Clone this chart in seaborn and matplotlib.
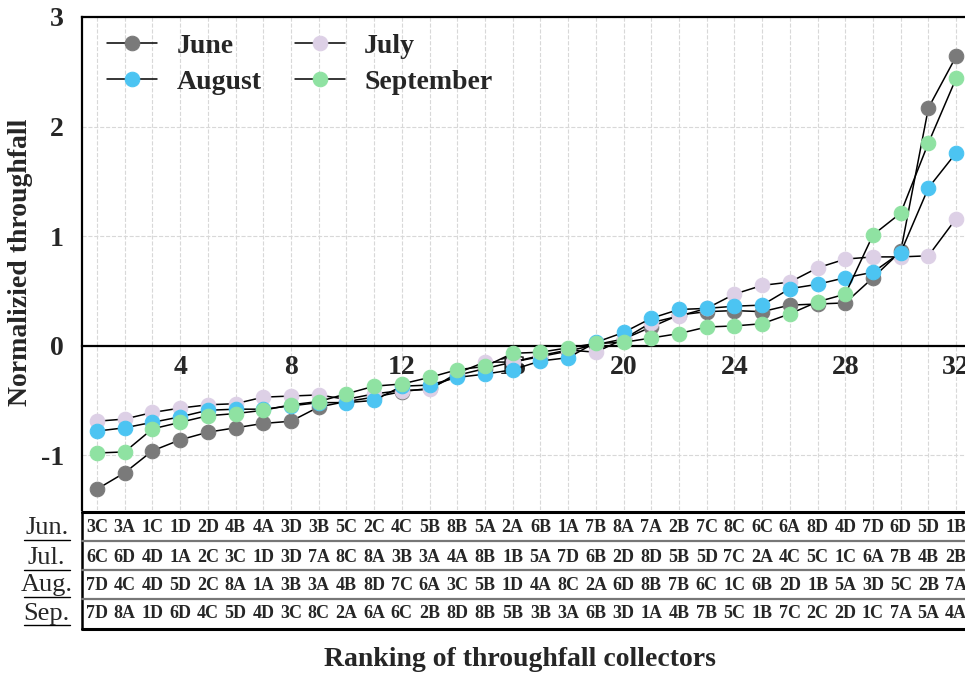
import matplotlib
matplotlib.use("Agg")
from matplotlib import pyplot as plt
import seaborn as sns
import pandas as pd

# ranks of collectors
rank = list(range(1, 33))

# normalized throughfall
june = [-1.31, -1.16, -0.96, -0.86, -0.79, -0.75, -0.71, -0.69, -0.56, -0.51,
        -0.47, -0.42, -0.39, -0.27, -0.21, -0.15, -0.10, -0.05, 0.01, 0.06,
        0.17, 0.28, 0.31, 0.32, 0.31, 0.37, 0.38, 0.39, 0.62, 0.86, 2.17, 2.64]
july = [-0.69, -0.67, -0.61, -0.57, -0.54, -0.53, -0.47, -0.46, -0.45, -0.49,
        -0.44, -0.41, -0.40, -0.25, -0.15, -0.15, -0.09, -0.04, -0.06, 0.06,
        0.21, 0.27, 0.34, 0.47, 0.55, 0.58, 0.71, 0.79, 0.81, 0.81, 0.82, 1.16]
august = [-0.78, -0.75, -0.70, -0.65, -0.59, -0.58, -0.58, -0.55, -0.52, -0.52,
          -0.50, -0.37, -0.36, -0.29, -0.26, -0.22, -0.14, -0.11, 0.03, 0.12,
          0.25, 0.33, 0.34, 0.36, 0.37, 0.52, 0.56, 0.62, 0.67, 0.85, 1.44, 1.76]
september = [-0.98, -0.97, -0.76, -0.70, -0.64, -0.62, -0.59, -0.54, -0.51, -0.44,
             -0.37, -0.35, -0.29, -0.22, -0.19, -0.07, -0.06, -0.02, 0.02, 0.03,
             0.07, 0.11, 0.17, 0.18, 0.20, 0.29, 0.40, 0.47, 1.01, 1.21, 1.85, 2.44]

# collector codes in order of rank
jun_codes = "3C 3A 1C 1D 2D 4B 4A 3D 3B 5C 2C 4C 5B 8B 5A 2A 6B 1A 7B 8A 7A 2B 7C 8C 6C 6A 8D 4D 7D 6D 5D 1B".split()
jul_codes = "6C 6D 4D 1A 2C 3C 1D 3D 7A 8C 8A 3B 3A 4A 8B 1B 5A 7D 6B 2D 8D 5B 5D 7C 2A 4C 5C 1C 6A 7B 4B 2B".split()
aug_codes = "7D 4C 4D 5D 2C 8A 1A 3B 3A 4B 8D 7C 6A 3C 5B 1D 4A 8C 2A 6D 8B 7B 6C 1C 6B 2D 1B 5A 3D 5C 2B 7A".split()
sep_codes = "7D 8A 1D 6D 4C 5D 4D 3C 8C 2A 6A 6C 2B 8D 8B 5B 3B 3A 6B 3D 1A 4B 7B 5C 1B 7C 2C 2D 1C 7A 5A 4A".split()

months = ["June", "July", "August", "September"]
row_names = ["Jun.", "Jul.", "Aug.", "Sep."]
colors = ["#7a7a7a", "#ddd0e6", "#4cc4f2", "#8fe2a2"]

sns.set_style("white")
plt.rcParams["font.family"] = ["Liberation Serif", "DejaVu Serif"]
plt.rcParams["font.weight"] = "bold"
plt.rcParams["axes.unicode_minus"] = False

fig = plt.figure(figsize=(9.65, 6.76), dpi=100)
ax = fig.add_axes([0.085, 0.2456, 0.915, 0.7293])

series = [june, july, august, september]
for name, vals, col in zip(months, series, colors):
    df = pd.DataFrame({"rank": rank, "value": vals})
    sns.lineplot(data=df, x="rank", y="value", ax=ax, color="black", lw=1.1,
                 marker="o", markersize=10.5, markerfacecolor=col,
                 markeredgecolor=col, label=name, zorder=3)

ax.set_xlim(0.46, 32.32)
ax.set_ylim(-1.5, 3)

# grid
ax.set_xticks(range(1, 33), minor=True)
ax.set_xticks(range(4, 33, 4))
ax.set_yticks([-1, 0, 1, 2, 3])
ax.grid(which="minor", axis="x", color="#d8d8d8", ls="--", lw=0.8)
ax.grid(which="major", axis="x", color="#d8d8d8", ls="--", lw=0.8)
ax.grid(which="major", axis="y", color="#d8d8d8", ls="--", lw=0.8)
ax.tick_params(axis="x", which="minor", length=0)
ax.tick_params(axis="x", which="major", direction="in", length=7, width=1.5,
               labelsize=20, pad=7)
ax.tick_params(axis="y", direction="out", length=8, width=1.5, labelsize=20,
               pad=5)

# spines: x axis through zero, frame on left and top
ax.spines["bottom"].set_position(("data", 0))
ax.spines["bottom"].set_linewidth(1.6)
ax.spines["left"].set_linewidth(1.6)
ax.spines["top"].set_linewidth(1.6)
ax.spines["right"].set_visible(False)
for s in ["bottom", "left", "top"]:
    ax.spines[s].set_color("black")

ax.set_xlabel("")
ax.set_ylabel("Normalizied throughfall", fontsize=20, fontweight="bold")
ax.yaxis.set_label_coords(-0.055, 0.503)

# legend: June, July on first row; August, September on second
h, l = ax.get_legend_handles_labels()
order = [0, 2, 1, 3]
ax.legend([h[i] for i in order], [l[i] for i in order],
          loc="upper left", ncol=2, frameon=False,
          prop={"family": "Liberation Serif", "weight": "bold", "size": 20},
          handlelength=1.8, columnspacing=1.2, handletextpad=0.7,
          labelspacing=0.4, bbox_to_anchor=(0.0, 1.018))

# table of collector codes below the plot
row_y = [-0.036, -0.097, -0.153, -0.210]
tr = ax.get_xaxis_transform()
for codes, y in zip([jun_codes, jul_codes, aug_codes, sep_codes], row_y):
    for r, c in zip(rank, codes):
        ax.text(r, y, c, transform=tr, ha="center", va="center",
                fontsize=13, fontweight="bold", clip_on=False)

for name, y in zip(row_names, row_y):
    ax.text(-0.04, y, name, transform=ax.transAxes, ha="center", va="center",
            fontsize=19, fontweight="normal", clip_on=False)
    ax.plot([-0.066, -0.014], [y - 0.024, y - 0.024], transform=ax.transAxes,
            color="black", lw=1, clip_on=False)

line_kw = dict(transform=ax.transAxes, clip_on=False)
ax.plot([0, 1], [-0.004, -0.004], color="black", lw=2.2, **line_kw)
ax.plot([0, 1], [-0.241, -0.241], color="black", lw=2.2, **line_kw)
ax.plot([0, 0], [-0.004, -0.241], color="black", lw=1.8, **line_kw)
for y in [-0.063, -0.122, -0.180]:
    ax.plot([0, 1], [y, y], color="#777777", lw=1.6, **line_kw)

ax.text(0.496, -0.304, "Ranking of throughfall collectors", transform=ax.transAxes,
        ha="center", va="center", fontsize=20, fontweight="bold", clip_on=False)

plt.savefig("out.png", dpi=100)
